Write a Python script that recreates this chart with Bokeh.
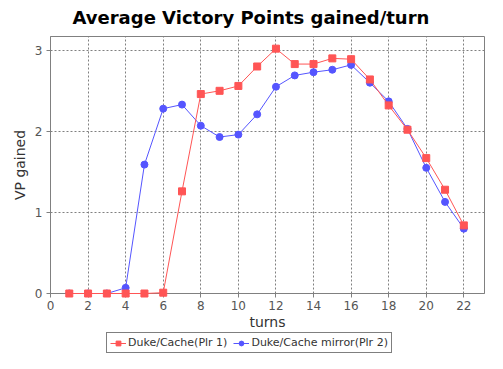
from bokeh.plotting import figure
from bokeh.models import Range1d, Legend, LegendItem, FixedTicker
from bokeh.layouts import column
from bokeh.embed import file_html
from bokeh.resources import INLINE

turns = list(range(1, 23))
plr1 = [0.0, 0.0, 0.0, 0.0, 0.0, 0.01, 1.26, 2.46, 2.50, 2.56, 2.80, 3.02,
        2.83, 2.83, 2.90, 2.89, 2.64, 2.32, 2.02, 1.67, 1.28, 0.84]
plr2 = [0.0, 0.0, 0.0, 0.07, 1.59, 2.28, 2.33, 2.07, 1.93, 1.96, 2.21, 2.55,
        2.69, 2.73, 2.76, 2.82, 2.60, 2.37, 2.03, 1.55, 1.13, 0.80]
x_ticks = list(range(0, 24, 2))
y_ticks = [0, 1, 2, 3]
series_names = ["Duke/Cache(Plr 1)", "Duke/Cache mirror(Plr 2)"]

FONT = "DejaVu Sans"
RED = "#FF5555"
BLUE = "#5555FF"

p = figure(width=487, height=332, output_backend="svg", toolbar_location=None,
           x_range=Range1d(0, 23.1), y_range=Range1d(0, 3.17),
           min_border_left=50, min_border_right=3, min_border_top=36,
           min_border_bottom=39)

p.title.text = "Average Victory Points gained/turn"
p.title.align = "left"
p.title.offset = 22
p.title.text_font = FONT
p.title.text_font_style = "bold"
p.title.text_font_size = "18px"
p.title.text_color = "black"
p.title.standoff = 13
p.title.vertical_align = "top"

p.outline_line_color = "#808080"
p.outline_line_width = 1
p.background_fill_color = "white"
p.border_fill_color = "white"

for g in (p.xgrid, p.ygrid):
    g.grid_line_color = "#808080"
    g.grid_line_dash = "2 2"
    g.grid_line_width = 1

p.xaxis.ticker = FixedTicker(ticks=x_ticks)
p.yaxis.ticker = FixedTicker(ticks=y_ticks)
for ax in (p.xaxis, p.yaxis):
    ax.axis_line_color = "#808080"
    ax.major_tick_line_color = "#808080"
    ax.minor_tick_line_color = None
    ax.major_tick_in = 0
    ax.major_tick_out = 4
    ax.major_label_text_font = FONT
    ax.major_label_text_font_size = "12px"
    ax.major_label_text_color = "#555555"
    ax.axis_label_text_font = FONT
    ax.axis_label_text_font_size = "14px"
    ax.axis_label_text_font_style = "normal"
    ax.axis_label_text_color = "#333333"
p.xaxis.axis_label = "turns"
p.yaxis.axis_label = "VP gained"
p.xaxis.major_label_standoff = 3
p.xaxis.axis_label_standoff = 1
p.yaxis.major_label_standoff = 4
p.yaxis.axis_label_standoff = 4

l1 = p.line(turns, plr1, line_color=RED, line_width=1)
s1 = p.scatter(turns, plr1, marker="square", size=7, fill_color=RED, line_color=RED)
l2 = p.line(turns, plr2, line_color=BLUE, line_width=1)
s2 = p.scatter(turns, plr2, marker="circle", size=7, fill_color=BLUE, line_color=BLUE)
l1.level = "overlay"
s1.level = "overlay"

# legend strip below the chart (series drawn off-view, only their legend shows)
q = figure(width=487, height=21, output_backend="svg", toolbar_location=None,
           x_range=Range1d(100, 101), y_range=Range1d(100, 101),
           min_border_left=0, min_border_right=0, min_border_top=0,
           min_border_bottom=0)
q.axis.visible = False
q.grid.visible = False
q.outline_line_color = None
q.border_fill_color = "white"
q.background_fill_color = "white"
ql1 = q.line(turns, plr1, line_color=RED, line_width=1)
qs1 = q.scatter(turns, plr1, marker="square", size=7, fill_color=RED, line_color=RED)
ql2 = q.line(turns, plr2, line_color=BLUE, line_width=1)
qs2 = q.scatter(turns, plr2, marker="circle", size=7, fill_color=BLUE, line_color=BLUE)

legend = Legend(items=[LegendItem(label=series_names[0], renderers=[ql1, qs1]),
                       LegendItem(label=series_names[1], renderers=[ql2, qs2])],
                orientation="horizontal", location=(56, 0))
legend.border_line_color = "black"
legend.border_line_width = 1
legend.background_fill_color = "white"
legend.background_fill_alpha = 1
legend.label_text_font = FONT
legend.label_text_font_size = "11px"
legend.label_text_color = "#333333"
legend.glyph_width = 16
legend.glyph_height = 12
legend.padding = 3
legend.spacing = 6
legend.label_standoff = 2
legend.margin = 0
legend.label_height = 13
q.add_layout(legend, "center")

open("out.html", "w").write(file_html(column(p, q, spacing=0), INLINE))
